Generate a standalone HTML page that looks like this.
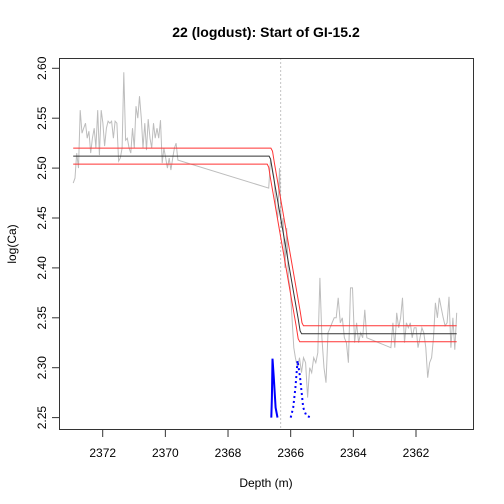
<!DOCTYPE html>
<html><head><meta charset="utf-8"><style>
body{margin:0;background:#fff}
svg{display:block;font-family:"Liberation Sans",Arial,sans-serif}
</style></head><body>
<svg id="chart" width="504" height="504" viewBox="0 0 504 504">
<rect width="504" height="504" fill="#fff"/>
<text x="266" y="37" text-anchor="middle" font-size="14" font-weight="bold">22 (logdust): Start of GI-15.2</text>
<text x="266" y="487" text-anchor="middle" font-size="12">Depth (m)</text>
<text transform="translate(16,244) rotate(-90)" text-anchor="middle" font-size="12">log(Ca)</text>
<g id="marks"></g>
<rect x="59.5" y="58.5" width="414" height="371" fill="none" stroke="#333" stroke-width="1"/>
</svg>
<script>
const xTicks=[2372,2370,2368,2366,2364,2362];
const yTicks=[2.25,2.30,2.35,2.40,2.45,2.50,2.55,2.60];
const segStarts=[2372.94,2366.70,2365.85,2362.80];
const segEnds=[2369.60,2365.90,2363.57,2360.70];
const segA=[2.485,2.49,2.515,2.50,2.558,2.535,2.54,2.545,2.53,2.537,2.515,2.53,2.54,2.52,2.558,2.513,2.558,2.545,2.522,2.54,2.547,2.545,2.547,2.53,2.547,2.545,2.507,2.51,2.52,2.596,2.528,2.53,2.52,2.515,2.54,2.52,2.562,2.55,2.572,2.55,2.52,2.545,2.518,2.549,2.53,2.52,2.545,2.53,2.54,2.53,2.548,2.505,2.52,2.51,2.50,2.51,2.498,2.51,2.52,2.525,2.508];
const segB=[2.48,2.508,2.50,2.49,2.46,2.45,2.50,2.44,2.45,2.40,2.44,2.39,2.38,2.35,2.32];
const segC=[2.31,2.30,2.31,2.295,2.31,2.305,2.27,2.30,2.295,2.31,2.305,2.315,2.39,2.33,2.30,2.285,2.335,2.34,2.345,2.35,2.35,2.37,2.345,2.35,2.33,2.325,2.305,2.38,2.38,2.325,2.345,2.325,2.335,2.33,2.358,2.33];
const segD=[2.32,2.345,2.32,2.355,2.34,2.35,2.37,2.325,2.345,2.34,2.345,2.33,2.34,2.34,2.32,2.33,2.34,2.335,2.32,2.29,2.305,2.31,2.33,2.365,2.35,2.37,2.36,2.35,2.342,2.345,2.371,2.32,2.35,2.318,2.355];
const fitLevels=[2.512,2.334];
const fitBand=[0.008];
const changeDepth=[2366.32];
const fitStart=[2366.64,2365.70];
const dataRange=[2372.94,2360.70];
const pdfSolid=[[2366.62,2.25],[2366.6,2.27],[2366.58,2.309],[2366.54,2.29],[2366.48,2.26],[2366.42,2.25]];
const pdfDotted=[[2366.0,2.25],[2365.92,2.26],[2365.85,2.28],[2365.78,2.307],[2365.7,2.29],[2365.6,2.26],[2365.5,2.252],[2365.35,2.25]];

const NS="http://www.w3.org/2000/svg";
const X=d=>102.7+(2372-d)*31.33;
const Y=v=>68.3+(2.60-v)*998;
const g=document.getElementById('marks');
function el(t,a){const e=document.createElementNS(NS,t);for(const k in a)e.setAttribute(k,a[k]);g.appendChild(e);return e;}
function pts(arr){return arr.map(p=>X(p[0]).toFixed(1)+','+Y(p[1]).toFixed(1)).join(' ');}

xTicks.forEach(t=>{
  const l=el('line',{x1:X(t),x2:X(t),y1:430,y2:437,stroke:'#333'});
  
  
  const tx=el('text',{x:X(t),y:457,'text-anchor':'middle','font-size':12});
  tx.textContent=t;
  
  
});
yTicks.forEach(t=>{
  const l=el('line',{x1:52,x2:59.5,y1:Y(t),y2:Y(t),stroke:'#333'});
  
  
  const tx=el('text',{transform:`translate(46,${Y(t)}) rotate(-90)`,'text-anchor':'middle','font-size':12});
  tx.textContent=t.toFixed(2);
  
  
});

const segs=[segA,segB,segC,segD];
let all=[];
segs.forEach((s,i)=>{const n=s.length;s.forEach((v,j)=>{all.push([segStarts[i]+(segEnds[i]-segStarts[i])*(n>1?j/(n-1):0),v]);});});
const data=el('polyline',{points:pts(all),fill:'none',stroke:'#bdbdbd','stroke-width':1});



const cl=el('line',{x1:X(changeDepth[0]),x2:X(changeDepth[0]),y1:58.5,y2:429.5,stroke:'#888','stroke-dasharray':'1,3'});



function fitLine(off,shift){
  const a=fitStart[0]+shift,b=fitStart[1]+shift,up=fitLevels[0]+off,lo=fitLevels[1]+off;
  const p=[[dataRange[0],up],[a+0.05,up],[a,up-0.003],[a-0.06,up-0.015],[b+0.06,lo+0.015],[b,lo+0.003],[b-0.05,lo],[dataRange[1],lo]];
  return pts(p);
}
const f1=el('polyline',{points:fitLine(0,0),fill:'none',stroke:'#333','stroke-width':1});


const f2=el('polyline',{points:fitLine(fitBand[0],-0.06),fill:'none',stroke:'#f33','stroke-width':1});


const f3=el('polyline',{points:fitLine(-fitBand[0],0.06),fill:'none',stroke:'#f33','stroke-width':1});



const p1=el('polyline',{points:pts(pdfSolid),fill:'none',stroke:'#00f','stroke-width':2});


const p2=el('polyline',{points:pts(pdfDotted),fill:'none',stroke:'#00f','stroke-width':2,'stroke-dasharray':'2,3'});


</script>
</body></html>
